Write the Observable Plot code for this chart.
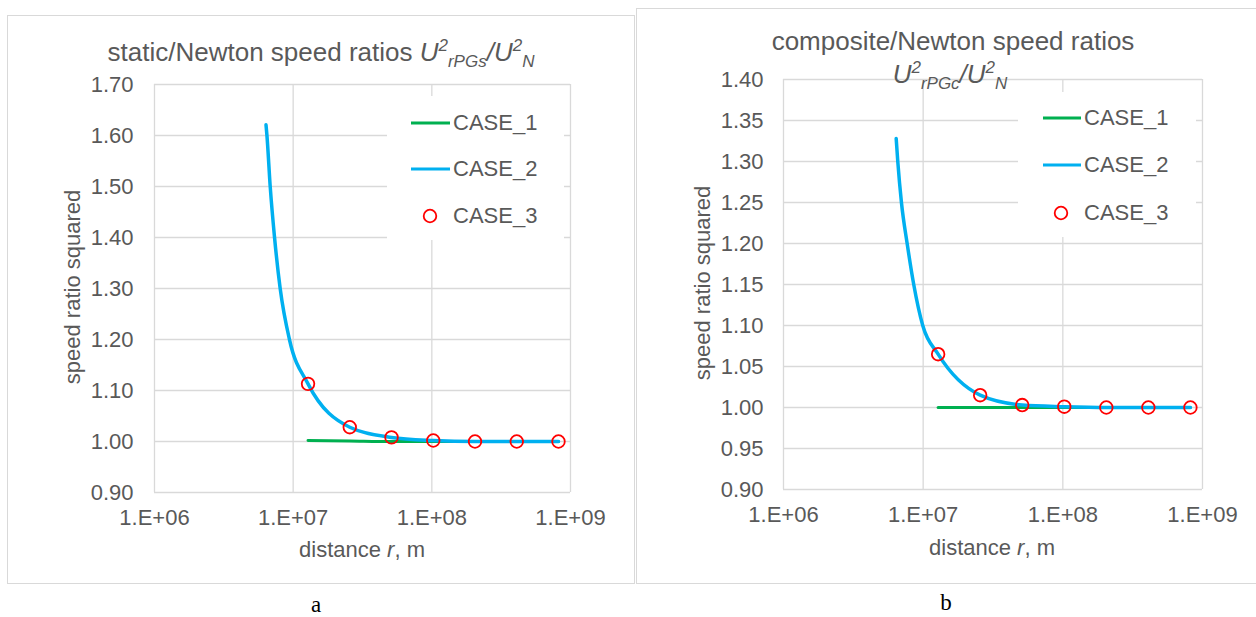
<!DOCTYPE html>
<html>
<head>
<meta charset="utf-8">
<script src="https://cdn.jsdelivr.net/npm/d3@7"></script>
<script src="https://cdn.jsdelivr.net/npm/@observablehq/plot@0.6"></script>
<style>
  html, body { margin: 0; padding: 0; background: #fff; }
  #wrap { position: relative; width: 1256px; height: 617px; overflow: hidden; font-family: "Liberation Sans", Arial, sans-serif; color: #595959; }
  .abs { position: absolute; white-space: nowrap; line-height: 1.1; }
  .panel { position: absolute; border: 1.5px solid #d9d9d9; box-sizing: border-box; }
  .plot { position: absolute; top: 0; }
  .title { font-size: 26px; transform: translate(-50%, -50%); }
  .ylab { font-size: 22px; transform: translate(-50%, -50%) rotate(-90deg); }
  .xlab { font-size: 22px; transform: translate(-50%, -50%); }
  .cap { font-family: "Liberation Serif", "DejaVu Serif", serif; font-size: 23px; color: #000; transform: translate(-50%, -50%); line-height: 1; }
  .legbox { position: absolute; background: #fff; }
  .legtext { font-size: 22px; transform: translateY(-50%); }
  sup, sub { font-size: 17px; line-height: 0; }
  sup { vertical-align: 0.55em; }
  sub { vertical-align: -0.35em; }
</style>
</head>
<body>
<div id="wrap"></div>
<script>
// ---- data ----
const xTicks = [1e6, 1e7, 1e8, 1e9];
const xTickLabels = ["1.E+06", "1.E+07", "1.E+08", "1.E+09"];
const yTicksA = [0.90, 1.00, 1.10, 1.20, 1.30, 1.40, 1.50, 1.60, 1.70];
const yTicksB = [0.90, 0.95, 1.00, 1.05, 1.10, 1.15, 1.20, 1.25, 1.30, 1.35, 1.40];

// distances (m)
const rCase2A = [6.37e6, 6.47e6, 6.83e6, 7.34e6, 8.06e6, 9.40e6, 1.28e7, 2.56e7, 5.12e7, 1.024e8, 2.048e8, 4.096e8, 8.192e8];
const rCase2B = [6.41e6, 6.58e6, 6.99e6, 7.68e6, 8.56e6, 9.93e6, 1.28e7, 2.56e7, 5.12e7, 1.024e8, 2.048e8, 4.096e8, 8.192e8];
const rCase13 = [1.28e7, 2.56e7, 5.12e7, 1.024e8, 2.048e8, 4.096e8, 8.192e8];

// (a) static/Newton
const staticCase1 = [1.002, 1.001, 1.000, 1.000, 1.000, 1.000, 1.000];
const staticCase2 = [1.621, 1.600, 1.500, 1.400, 1.300, 1.200, 1.113, 1.028, 1.008, 1.002, 1.000, 1.000, 1.000];
const staticCase3 = [1.113, 1.028, 1.008, 1.002, 1.000, 1.000, 1.000];

// (b) composite/Newton
const compCase1 = [1.000, 1.000, 1.000, 1.000, 1.000, 1.000, 1.000];
const compCase2 = [1.328, 1.300, 1.250, 1.200, 1.150, 1.100, 1.065, 1.015, 1.003, 1.001, 1.000, 1.000, 1.000];
const compCase3 = [1.065, 1.015, 1.003, 1.001, 1.000, 1.000, 1.000];

const seriesNames = ["CASE_1", "CASE_2", "CASE_3"];
const colors = {CASE_1: "#00b050", CASE_2: "#00b0f0", CASE_3: "#ff0000"};

// ---- helpers ----
const wrap = document.getElementById("wrap");
function add(html, cls, left, top) {
  const d = document.createElement("div");
  d.className = "abs " + cls;
  d.style.left = left + "px";
  d.style.top = top + "px";
  d.innerHTML = html;
  wrap.appendChild(d);
  return d;
}

function makePlot(opt) {
  const c1 = rCase13.map((r, i) => ({r, v: opt.c1[i]}));
  const c2 = opt.r2.map((r, i) => ({r, v: opt.c2[i]}));
  const c3 = rCase13.map((r, i) => ({r, v: opt.c3[i]}));
  return Plot.plot({
    width: opt.width, height: 617,
    marginLeft: opt.ml, marginRight: opt.mr, marginTop: opt.mt, marginBottom: opt.mb,
    x: {type: "log", domain: [1e6, 1e9]},
    y: {domain: opt.ydomain},
    style: {fontFamily: '"Liberation Sans", Arial, sans-serif', fontSize: "22px", color: "#595959", background: "transparent", overflow: "visible"},
    marks: [
      Plot.ruleY(opt.yticks, {y: d => d, stroke: "#d9d9d9", strokeWidth: 1.3, strokeOpacity: 1}),
      Plot.ruleX(xTicks, {x: d => d, stroke: "#d9d9d9", strokeWidth: 1.3, strokeOpacity: 1}),
      Plot.axisY({ticks: opt.yticks, tickSize: 0, tickPadding: opt.ypad, tickFormat: d => d.toFixed(2), label: null, fill: "#595959", fontSize: 22}),
      Plot.axisX({ticks: xTicks, tickSize: 0, tickPadding: 17, tickFormat: d => xTickLabels[Math.round(Math.log10(d)) - 6], label: null, fill: "#595959", fontSize: 22}),
      Plot.line(c1, {x: "r", y: "v", stroke: colors.CASE_1, strokeWidth: 3, curve: "monotone-x"}),
      Plot.line(c2, {x: "r", y: "v", stroke: colors.CASE_2, strokeWidth: 3.5, curve: "monotone-x"}),
      Plot.dot(c3, {x: "r", y: "v", r: 6.3, stroke: colors.CASE_3, strokeWidth: 1.8, fill: "none"})
    ]
  });
}

// panel borders
const pa = document.createElement("div"); pa.className = "panel";
Object.assign(pa.style, {left: "7px", top: "15px", width: "628px", height: "569px"}); wrap.appendChild(pa);
const pb = document.createElement("div"); pb.className = "panel";
Object.assign(pb.style, {left: "636px", top: "8px", width: "630px", height: "576px"}); wrap.appendChild(pb);

// plots
const plotA = makePlot({width: 640, ml: 154, mr: 70, mt: 84, mb: 125, ydomain: [0.9, 1.7], yticks: yTicksA, ypad: 21,
  r2: rCase2A, c1: staticCase1, c2: staticCase2, c3: staticCase3});
plotA.classList.add("plot"); plotA.style.left = "0px"; wrap.appendChild(plotA);

const plotB = makePlot({width: 620, ml: 147, mr: 54, mt: 79, mb: 128, ydomain: [0.9, 1.4], yticks: yTicksB, ypad: 20,
  r2: rCase2B, c1: compCase1, c2: compCase2, c3: compCase3});
plotB.classList.add("plot"); plotB.style.left = "636px"; wrap.appendChild(plotB);

// titles
add('static/Newton speed ratios <i>U<sup>2</sup><sub>rPGs</sub>/U<sup>2</sup><sub>N</sub></i>', "title", 321, 52);
add('composite/Newton speed ratios', "title", 953, 41);
add('<i>U<sup>2</sup><sub>rPGc</sub>/U<sup>2</sup><sub>N</sub></i>', "title", 950, 74);

// axis titles
add('speed ratio squared', "ylab", 73, 287);
add('speed ratio squared', "ylab", 703, 283);
add('distance <i>r</i>, m', "xlab", 362, 550);
add('distance <i>r</i>, m', "xlab", 992, 548);

// legends
function legend(box, lineX0, lineX1, ys, cx, textX) {
  const b = document.createElement("div"); b.className = "legbox";
  Object.assign(b.style, {left: box[0] + "px", top: box[1] + "px", width: (box[2] - box[0]) + "px", height: (box[3] - box[1]) + "px"});
  wrap.appendChild(b);
  const ns = "http://www.w3.org/2000/svg";
  const svg = document.createElementNS(ns, "svg");
  svg.setAttribute("width", 1256); svg.setAttribute("height", 617);
  svg.style.position = "absolute"; svg.style.left = "0"; svg.style.top = "0";
  seriesNames.forEach((name, i) => {
    if (name === "CASE_3") {
      const c = document.createElementNS(ns, "circle");
      c.setAttribute("cx", cx); c.setAttribute("cy", ys[i]); c.setAttribute("r", 6.3);
      c.setAttribute("fill", "none"); c.setAttribute("stroke", colors[name]); c.setAttribute("stroke-width", 1.8);
      svg.appendChild(c);
    } else {
      const l = document.createElementNS(ns, "line");
      l.setAttribute("x1", lineX0); l.setAttribute("x2", lineX1); l.setAttribute("y1", ys[i]); l.setAttribute("y2", ys[i]);
      l.setAttribute("stroke", colors[name]); l.setAttribute("stroke-width", 3);
      svg.appendChild(l);
    }
  });
  wrap.appendChild(svg);
  seriesNames.forEach((name, i) => add(name, "legtext", textX, ys[i]));
}
legend([387, 96, 564, 240], 411, 450, [123, 169, 216], 430, 453);
legend([1018, 92, 1196, 237], 1043, 1081, [118, 165, 213], 1061, 1084);

// captions
add('a', "cap", 316, 604);
add('b', "cap", 946, 602);
</script>
</body>
</html>
